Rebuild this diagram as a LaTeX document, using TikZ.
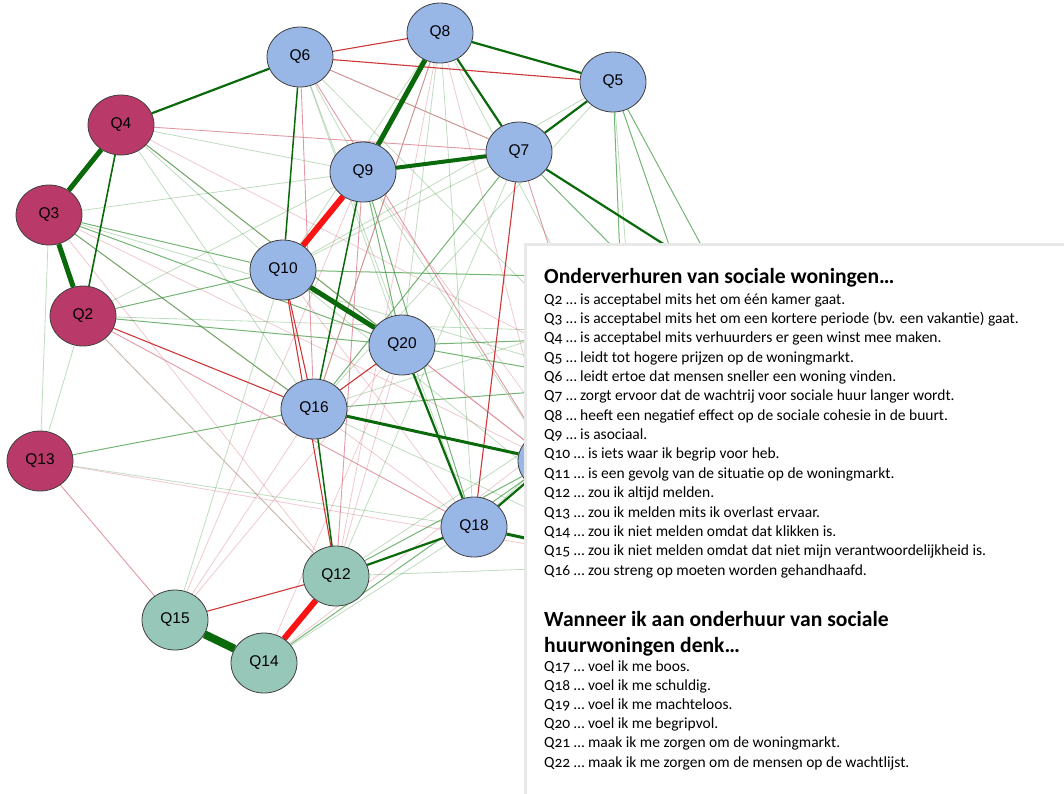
\documentclass[tikz,border=0pt]{standalone}
\usepackage{fontspec}
\setmainfont{Carlito}[Numbers=OldStyle]
\newfontfamily\nodefont{Liberation Sans}
\usetikzlibrary{shapes.geometric}
\pgfdeclarelayer{edges}
\pgfdeclarelayer{front}
\pgfsetlayers{edges,main,front}
\definecolor{crim}{RGB}{185,58,104}
\definecolor{nblue}{RGB}{152,182,230}
\definecolor{nteal}{RGB}{150,199,184}
\definecolor{dg}{RGB}{10,105,10}
\definecolor{lg}{RGB}{70,155,70}
\definecolor{rr}{RGB}{250,20,20}
\definecolor{mr}{RGB}{205,55,55}
\definecolor{lr}{RGB}{215,120,135}
\definecolor{boxedge}{RGB}{232,232,232}
\tikzset{
  qn/.style={ellipse, draw=black!75, line width=0.8pt, minimum width=66pt, minimum height=60pt, inner sep=0pt, font=\nodefont\fontsize{15.5}{15.5}\selectfont},
  cr/.style={qn, fill=crim},
  bl/.style={qn, fill=nblue},
  te/.style={qn, fill=nteal},
  gT/.style={draw=dg, line width=5pt},
  gM/.style={draw=dg, line width=2.2pt},
  gS/.style={draw=lg, line width=1pt, draw opacity=.75},
  gF/.style={draw=lg, line width=.8pt, draw opacity=.35},
  rT/.style={draw=rr, line width=6pt},
  rM/.style={draw=mr, line width=1.1pt},
  rS/.style={draw=lr, line width=.9pt, draw opacity=.75},
  rF/.style={draw=lr, line width=.8pt, draw opacity=.4},
  legline/.style={anchor=base west, inner sep=0pt, font=\fontsize{15.5}{15.5}\selectfont},
  leghead/.style={anchor=base west, inner sep=0pt, font=\bfseries\fontsize{21.6}{21.6}\selectfont},
}
\begin{document}
\begin{tikzpicture}[x=1pt,y=-1pt]
\useasboundingbox (0,0) rectangle (1064,793);
% nodes
\node[cr] (Q4) at (121,125) {Q4};
\node[cr] (Q3) at (49,215) {Q3};
\node[cr] (Q2) at (83,316) {Q2};
\node[cr] (Q13) at (40,461) {Q13};
\node[bl] (Q6) at (300,57) {Q6};
\node[bl] (Q8) at (440,33) {Q8};
\node[bl] (Q5) at (613,82) {Q5};
\node[bl] (Q7) at (519,152) {Q7};
\node[bl] (Q9) at (363,172) {Q9};
\node[bl] (Q10) at (283,270) {Q10};
\node[bl] (Q20) at (402,345) {Q20};
\node[bl] (Q16) at (314,409) {Q16};
\node[bl] (Q11) at (551,461) {};
\node[bl] (Q18) at (474,527) {Q18};
\node[te] (Q12) at (336,576) {Q12};
\node[te] (Q15) at (175,620) {Q15};
\node[te] (Q14) at (264,663) {Q14};
\coordinate (Q17) at (700,335);
\coordinate (Q19) at (650,565);
\coordinate (Q21) at (720,280);
\coordinate (Q22) at (625,385);
\begin{pgfonlayer}{edges}
% faint green
\foreach \a/\b in {Q3/Q9,Q2/Q9,Q13/Q2,Q13/Q3,Q6/Q20,Q6/Q7,Q6/Q18,Q6/Q9,Q8/Q16,Q8/Q20,Q8/Q18,Q8/Q10,Q5/Q19,Q5/Q10,Q5/Q16,Q7/Q10,Q7/Q12,Q9/Q11,Q12/Q19,Q14/Q18,Q15/Q10,Q16/Q19,Q18/Q22,Q4/Q9,Q4/Q10,Q2/Q12,Q13/Q18,Q3/Q22,Q2/Q17,Q4/Q16,Q6/Q22,Q8/Q22,Q10/Q19,Q12/Q17,Q16/Q21}
  \draw[gF] (\a) -- (\b);
% faint red
\foreach \a/\b in {Q4/Q22,Q3/Q11,Q13/Q19,Q14/Q22,Q15/Q9,Q15/Q20,Q8/Q11,Q12/Q20,Q15/Q16,Q3/Q18,Q2/Q12,Q14/Q20,Q4/Q11,Q9/Q19,Q8/Q12,Q10/Q18,Q3/Q12}
  \draw[rF] (\a) -- (\b);
% thin green
\foreach \a/\b in {Q3/Q10,Q3/Q20,Q3/Q16,Q2/Q10,Q2/Q20,Q13/Q16,Q5/Q21,Q5/Q17,Q7/Q16,Q9/Q20,Q9/Q18,Q10/Q21,Q20/Q17,Q20/Q22,Q12/Q11,Q14/Q11,Q16/Q22,Q5/Q22,Q7/Q17,Q4/Q20}
  \draw[gS] (\a) -- (\b);
% thin red
\foreach \a/\b in {Q4/Q7,Q2/Q18,Q13/Q15,Q9/Q12,Q6/Q7,Q6/Q11,Q6/Q16,Q20/Q11,Q8/Q16,Q7/Q19}
  \draw[rS] (\a) -- (\b);
% medium red
\foreach \a/\b in {Q6/Q5,Q6/Q8,Q2/Q16,Q10/Q16,Q10/Q12,Q20/Q16,Q15/Q12,Q7/Q18}
  \draw[rM] (\a) -- (\b);
% medium green
\foreach \a/\b in {Q4/Q6,Q8/Q5,Q8/Q7,Q7/Q5,Q7/Q21,Q20/Q18,Q12/Q18,Q18/Q11}
  \draw[gM] (\a) -- (\b);
\draw[gM, line width=1.6pt] (Q4) -- (Q2);
\draw[gM, line width=1.5pt] (Q9) -- (Q16);
\draw[gM, line width=1.5pt] (Q6) -- (Q10);
\draw[gM, line width=1.5pt] (Q16) -- (Q12);
\draw[gM, line width=3pt] (Q16) -- (Q11);
\draw[gM, line width=3pt] (Q18) -- (Q19);
% thick
\draw[gT] (Q4) -- (Q3);
\draw[gT] (Q3) -- (Q2);
\draw[gT] (Q8) -- (Q9);
\draw[gT, line width=4pt] (Q9) -- (Q7);
\draw[gT] (Q10) -- (Q20);
\draw[gT, line width=8pt] (Q15) -- (Q14);
\draw[rT] (Q9) -- (Q10);
\draw[rT] (Q12) -- (Q14);
\end{pgfonlayer}
\begin{pgfonlayer}{front}
\fill[white] (527,246) rectangle (1070,800);
\draw[boxedge, line width=3pt] (525.5,800) -- (525.5,244.5) -- (1070,244.5);
\node[leghead] (h1) at (544,283) {Onderverhuren van sociale woningen…};
\node[legline] (l2) at (544,304) {Q2 … is acceptabel mits het om één kamer gaat.};
\node[legline] (l3) at (544,323.4) {Q3 … is acceptabel mits het om een kortere periode (bv. een vakantie) gaat.};
\node[legline] (l4) at (544,342.7) {Q4 … is acceptabel mits verhuurders er geen winst mee maken.};
\node[legline] (l5) at (544,362.1) {Q5 … leidt tot hogere prijzen op de woningmarkt.};
\node[legline] (l6) at (544,381.4) {Q6 … leidt ertoe dat mensen sneller een woning vinden.};
\node[legline] (l7) at (544,400.8) {Q7 … zorgt ervoor dat de wachtrij voor sociale huur langer wordt.};
\node[legline] (l8) at (544,420.2) {Q8 … heeft een negatief effect op de sociale cohesie in de buurt.};
\node[legline] (l9) at (544,439.5) {Q9 … is asociaal.};
\node[legline] (l10) at (544,458.9) {Q10 … is iets waar ik begrip voor heb.};
\node[legline] (l11) at (544,478.2) {Q11 … is een gevolg van de situatie op de woningmarkt.};
\node[legline] (l12) at (544,497.6) {Q12 … zou ik altijd melden.};
\node[legline] (l13) at (544,517) {Q13 … zou ik melden mits ik overlast ervaar.};
\node[legline] (l14) at (544,536.3) {Q14 … zou ik niet melden omdat dat klikken is.};
\node[legline] (l15) at (544,555.7) {Q15 … zou ik niet melden omdat dat niet mijn verantwoordelijkheid is.};
\node[legline] (l16) at (544,575) {Q16 … zou streng op moeten worden gehandhaafd.};
\node[leghead] (h2) at (544,626) {Wanneer ik aan onderhuur van sociale};
\node[leghead] (h3) at (544,652) {huurwoningen denk…};
\node[legline] (l17) at (544,671) {Q17 … voel ik me boos.};
\node[legline] (l18) at (544,690.2) {Q18 … voel ik me schuldig.};
\node[legline] (l19) at (544,709.4) {Q19 … voel ik me machteloos.};
\node[legline] (l20) at (544,728.6) {Q20 … voel ik me begripvol.};
\node[legline] (l21) at (544,747.8) {Q21 … maak ik me zorgen om de woningmarkt.};
\node[legline] (l22) at (544,767) {Q22 … maak ik me zorgen om de mensen op de wachtlijst.};
\end{pgfonlayer}
\end{tikzpicture}
\end{document}
